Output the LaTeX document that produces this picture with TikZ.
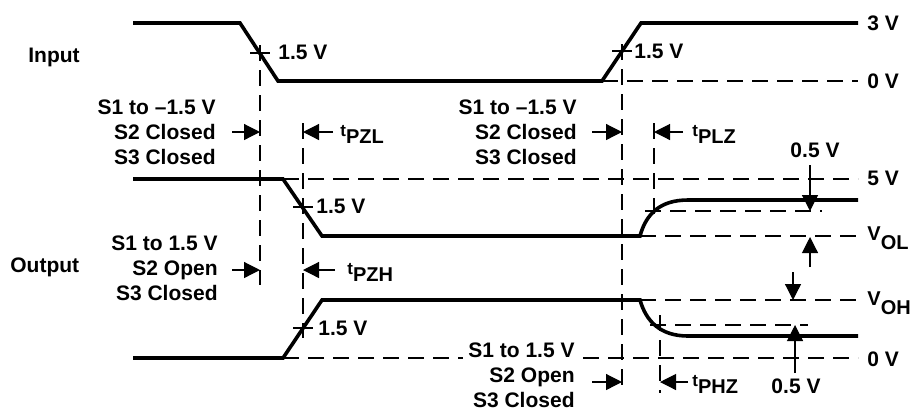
\documentclass[tikz,border=0pt]{standalone}
\usepackage{tikz}
\usepackage{xcolor}
\usepackage{fontspec}
\setmainfont{Liberation Sans}
\usetikzlibrary{arrows.meta}

\newcommand{\tdelay}[1]{{\fontsize{8.5}{9}\selectfont t}\raisebox{-3.5pt}{\fontsize{10}{11}\selectfont #1}}
\newcommand{\vlevel}[1]{{\fontsize{10}{11}\selectfont V\raisebox{-4.5pt}{#1}}}

\begin{document}
\begin{tikzpicture}[x=0.5pt,y=-0.5pt,
	wave/.style={line width=1.8pt,line join=miter},
	guide/.style={line width=0.6pt,dash pattern=on 8pt off 4.5pt},
	tick/.style={line width=0.6pt},
	dim/.style={line width=0.6pt,-{Triangle[length=8pt,width=8pt]}},
	lbl/.style={font=\fontsize{10.5}{12.5}\selectfont\bfseries,inner sep=0pt}]
	\useasboundingbox (0,0) rectangle (914,409);

	% (levels)
	\draw[guide] (602,81) -- (858,81);
	\draw[guide] (283,179) -- (858,179);
	\draw[guide] (640,236) -- (858,236);
	\draw[guide] (645,211) -- (822,211);
	\draw[guide] (640,300) -- (858,300);
	\draw[guide] (650,325) -- (808,325);
	\draw[guide] (283,358) -- (858,358);
	% (timing)
	\draw[guide] (260,45) -- (260,285);
	\draw[guide] (303,123) -- (303,338);
	\draw[guide] (622,44) -- (622,385);
	\draw[guide] (654,123) -- (654,216);
	\draw[guide] (660,315) -- (660,393);

	% (waves)
\draw[wave] (133,23) -- (240,23) -- (278,81) -- (602,81) -- (641,23) -- (858,23);
\draw[wave] (133,179) -- (283,179) -- (322,236) -- (640,236) .. controls (646,214) and (660,200) .. (688,200) -- (858,200);
\draw[wave] (133,358) -- (283,358) -- (322,300) -- (640,300) .. controls (646,321) and (660,336) .. (688,336) -- (858,336);
\draw[tick] (250,53) -- (270,53);
\draw[tick] (612,51) -- (632,51);
\draw[tick] (293,207) -- (313,207);
\draw[tick] (293,328) -- (313,328);

	\node[lbl,anchor=base west] (inp) at (28,62) {Input};
	\node[lbl,anchor=base west] (outp) at (10,272) {Output};
	\node[lbl,align=right,anchor=east] (swa) at (216,132) {S1 to –1.5 V\\S2 Closed\\S3 Closed};
	\node[lbl,align=right,anchor=east] (swb) at (218,268) {S1 to 1.5 V\\S2 Open\\S3 Closed};
	\node[lbl,align=right,anchor=east] (swc) at (577,132) {S1 to –1.5 V\\S2 Closed\\S3 Closed};
	\node[lbl,align=right,anchor=east,fill=white,inner xsep=2.5pt] (swd) at (580,375) {S1 to 1.5 V\\S2 Open\\S3 Closed};
	\node[lbl,anchor=west] (ina) at (278,52) {1.5 V};
	\node[lbl,anchor=west] (inb) at (634,51) {1.5 V};
	\node[lbl,anchor=west] (outa) at (316,206) {1.5 V};
	\node[lbl,anchor=west] (outb) at (318,328) {1.5 V};
	\node[lbl,anchor=west] (lv3) at (867,23) {3 V};
	\node[lbl,anchor=west] (lv0) at (867,81) {0 V};
	\node[lbl,anchor=west] (lv5) at (867,178) {5 V};
	\node[lbl,anchor=west] (lvol) at (867,238) {\vlevel{OL}};
	\node[lbl,anchor=west] (lvoh) at (867,303) {\vlevel{OH}};
	\node[lbl,anchor=west] (lvz) at (867,359) {0 V};
	\node[lbl] (hia) at (815,150) {0.5 V};
	\node[lbl] (hib) at (796,386) {0.5 V};
	\node[lbl,anchor=west] (tpzl) at (340,134) {\tdelay{PZL}};
	\node[lbl,anchor=west] (tpzh) at (347,272) {\tdelay{PZH}};
	\node[lbl,anchor=west] (tplz) at (692,134) {\tdelay{PLZ}};
	\node[lbl,anchor=west] (tphz) at (692,384) {\tdelay{PHZ}};

	% (arrows)
	\draw[dim] (232,132) -- (260,132);
	\draw[dim] (333,132) -- (303,132);
	\draw[dim] (232,270) -- (260,270);
	\draw[dim] (335,270) -- (303,270);
	\draw[dim] (592,132) -- (622,132);
	\draw[dim] (683,132) -- (654,132);
	\draw[dim] (592,382) -- (622,382);
	\draw[dim] (688,382) -- (660,382);
	\draw[dim] (810,165) -- (810,211);
	\draw[dim] (810,267) -- (810,237);
	\draw[dim] (793,272) -- (793,300);
	\draw[dim] (795,373) -- (795,325);

\end{tikzpicture}
\end{document}
